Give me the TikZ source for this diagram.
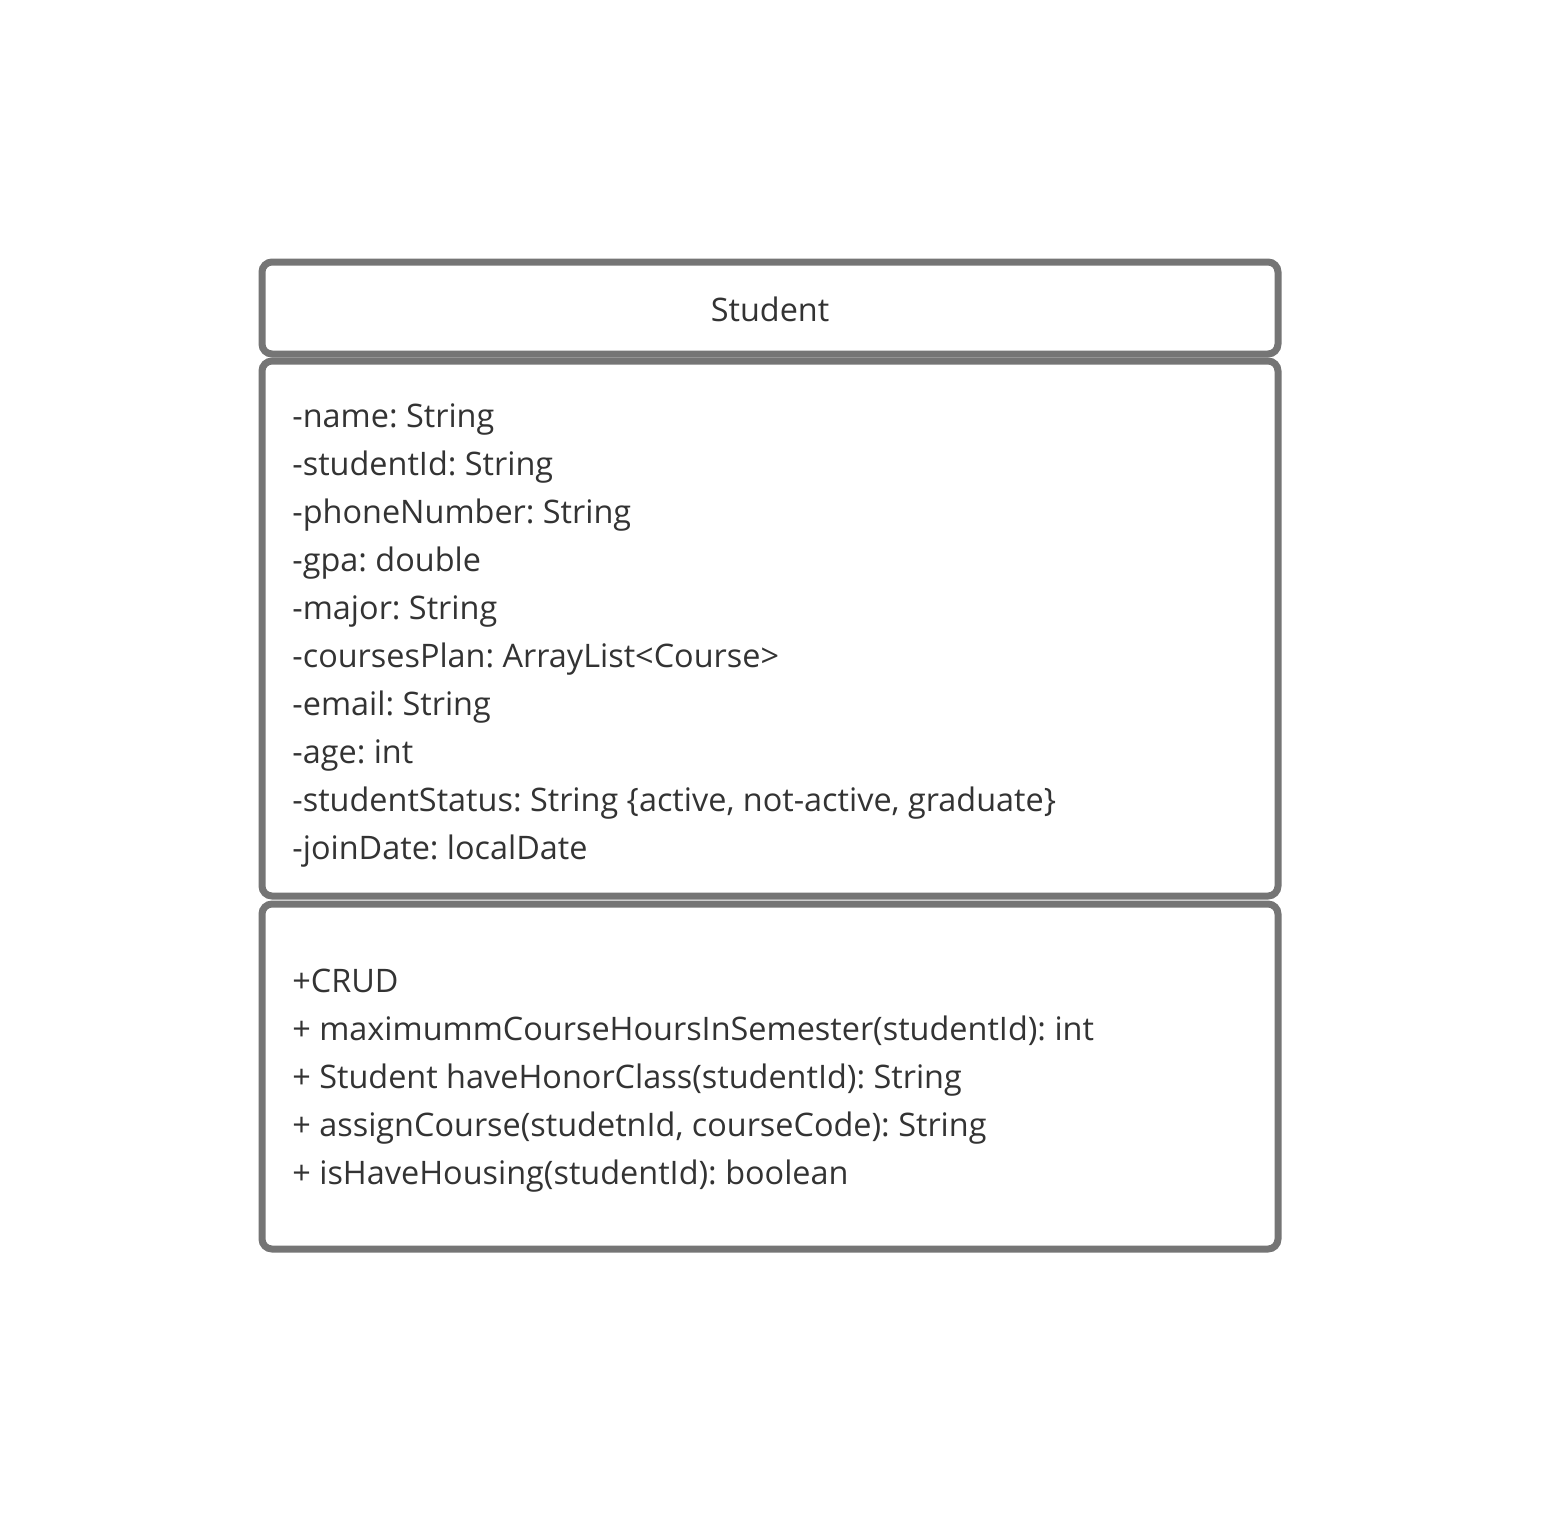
\documentclass[tikz,border=0pt]{standalone}
\usepackage{fontspec}
\setmainfont{Open Sans}
\frenchspacing
\usetikzlibrary{positioning}
\definecolor{UMLGray}{RGB}{117,117,117}
\definecolor{UMLText}{RGB}{51,51,51}

\begin{document}
\begin{tikzpicture}[
    x=0.5pt, y=-0.5pt,
    compartment/.style={
      rectangle, rounded corners=5pt, draw=UMLGray, line width=3.5pt,
      minimum width=508pt, inner sep=0pt, outer sep=0pt, anchor=north west
    },
    member/.style={
      anchor=base west, inner sep=0pt, text=UMLText,
      font=\fontsize{16.2}{19}\selectfont
    }
  ]
    \useasboundingbox (0,0) rectangle (1541,1512);

    % class compartments
    \node[compartment, minimum height=46pt] (title) at (262,262) {};
    \node[compartment, minimum height=267.5pt] (attrs) at (262,361) {};
    \node[compartment, minimum height=172.5pt] (methods) at (262,904) {};

    \node[member, anchor=base] (classname) at (770,321) {Student};

    % attributes
    \foreach \txt [count=\i] in {
        -name: String,
        -studentId: String,
        -phoneNumber: String,
        -gpa: double,
        -major: String,
        -coursesPlan: ArrayList<Course>,
        -email: String,
        -age: int,
        {-studentStatus: String \{active, not-active, graduate\}},
        -joinDate: localDate}
      \node[member] (attr\i) at (292,{427+48*(\i-1)}) {\txt};

    % operations
    \foreach \txt [count=\i] in {
        +CRUD,
        + maximummCourseHoursInSemester(studentId): int,
        + Student haveHonorClass(studentId): String,
        {+ assignCourse(studetnId, courseCode): String},
        + isHaveHousing(studentId): boolean}
      \node[member] (meth\i) at (292,{992+48*(\i-1)}) {\txt};
  \end{tikzpicture}
\end{document}
